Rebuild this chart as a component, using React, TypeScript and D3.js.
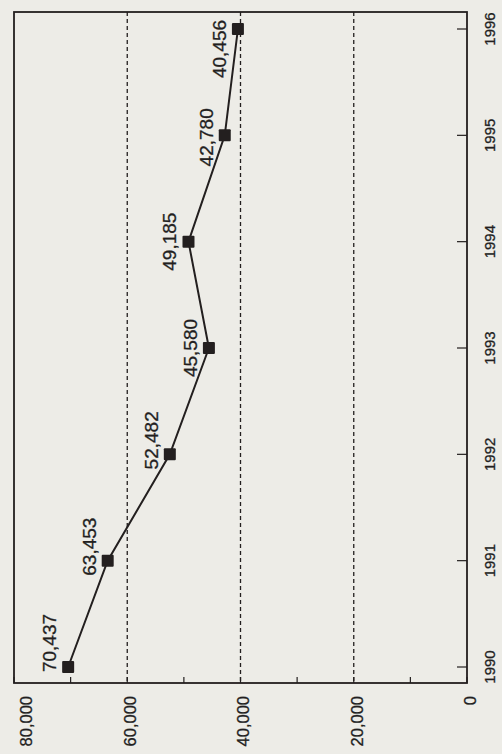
import React from "react";
import * as d3 from "d3";

const years = [1990, 1991, 1992, 1993, 1994, 1995, 1996];
const values = [70437, 63453, 52482, 45580, 49185, 42780, 40456];
const valueTicks = [0, 20000, 40000, 60000, 80000];
const minorTicks = [10000, 30000, 50000, 70000];
const gridValues = [20000, 40000, 60000];
// label nudges along the year direction (px), a styling tweak
const labelNudge = [-24, -14, -14, 0, 0, 2, 20];

const W = 502;
const H = 754;
const frame = { left: 14, right: 467, top: 12, bottom: 683 };
const font = "'Liberation Sans', Arial, Helvetica, sans-serif";
const ink = "#231f1f";

export default function App() {
  const x = d3.scaleLinear().domain([0, 80000]).range([frame.right, frame.left]);
  const y = d3.scaleLinear().domain([1990, 1996]).range([667, 29]);
  const fmt = d3.format(",");
  const line = d3
    .line<number>()
    .x((d, i) => x(values[i]))
    .y((d, i) => y(years[i]));

  return (
    <svg
      width={W}
      height={H}
      style={{ position: "absolute", left: 0, top: 0, display: "block" }}
    >
      <rect x={0} y={0} width={W} height={H} fill="#edece7" />
      {gridValues.map((v) => (
        <line
          key={"g" + v}
          x1={x(v)}
          x2={x(v)}
          y1={frame.top}
          y2={frame.bottom}
          stroke={ink}
          strokeWidth={1.3}
          strokeDasharray="4,3"
        />
      ))}
      <rect
        x={frame.left}
        y={frame.top}
        width={frame.right - frame.left}
        height={frame.bottom - frame.top}
        fill="none"
        stroke={ink}
        strokeWidth={1.8}
      />
      {[...valueTicks, ...minorTicks].map((v) => (
        <line
          key={"t" + v}
          x1={x(v)}
          x2={x(v)}
          y1={frame.bottom}
          y2={frame.bottom - 6}
          stroke={ink}
          strokeWidth={1.2}
        />
      ))}
      {years.map((yr) => (
        <line
          key={"yt" + yr}
          x1={frame.right}
          x2={frame.right - 10}
          y1={y(yr)}
          y2={y(yr)}
          stroke={ink}
          strokeWidth={1.2}
        />
      ))}
      {valueTicks.map((v) => {
        const cx = Math.max(x(v) + 3, frame.left + 12);
        return (
          <text
            key={"vl" + v}
            transform={`translate(${cx},696) rotate(-90)`}
            textAnchor="end"
            dy="0.36em"
            fontFamily={font}
            fontSize={16.5}
            fill={ink}
            stroke={ink}
            strokeWidth={0.3}
          >
            {fmt(v)}
          </text>
        );
      })}
      {years.map((yr) => (
        <text
          key={"yl" + yr}
          transform={`translate(490,${y(yr)}) rotate(-90)`}
          textAnchor="middle"
          dy="0.36em"
          fontFamily={font}
          fontSize={15}
          fill={ink}
          stroke={ink}
          strokeWidth={0.3}
        >
          {yr}
        </text>
      ))}
      <path d={line(values) || ""} fill="none" stroke={ink} strokeWidth={2} />
      {values.map((v, i) => (
        <rect
          key={"m" + i}
          x={x(v) - 6}
          y={y(years[i]) - 6}
          width={12}
          height={12}
          fill={ink}
          rx={1}
        />
      ))}
      {values.map((v, i) => (
        <text
          key={"dl" + i}
          transform={`translate(${x(v) - 19},${y(years[i]) + labelNudge[i]}) rotate(-90)`}
          textAnchor="middle"
          dy="0.36em"
          fontFamily={font}
          fontSize={19}
          fill={ink}
          stroke={ink}
          strokeWidth={0.3}
        >
          {fmt(v)}
        </text>
      ))}
    </svg>
  );
}
